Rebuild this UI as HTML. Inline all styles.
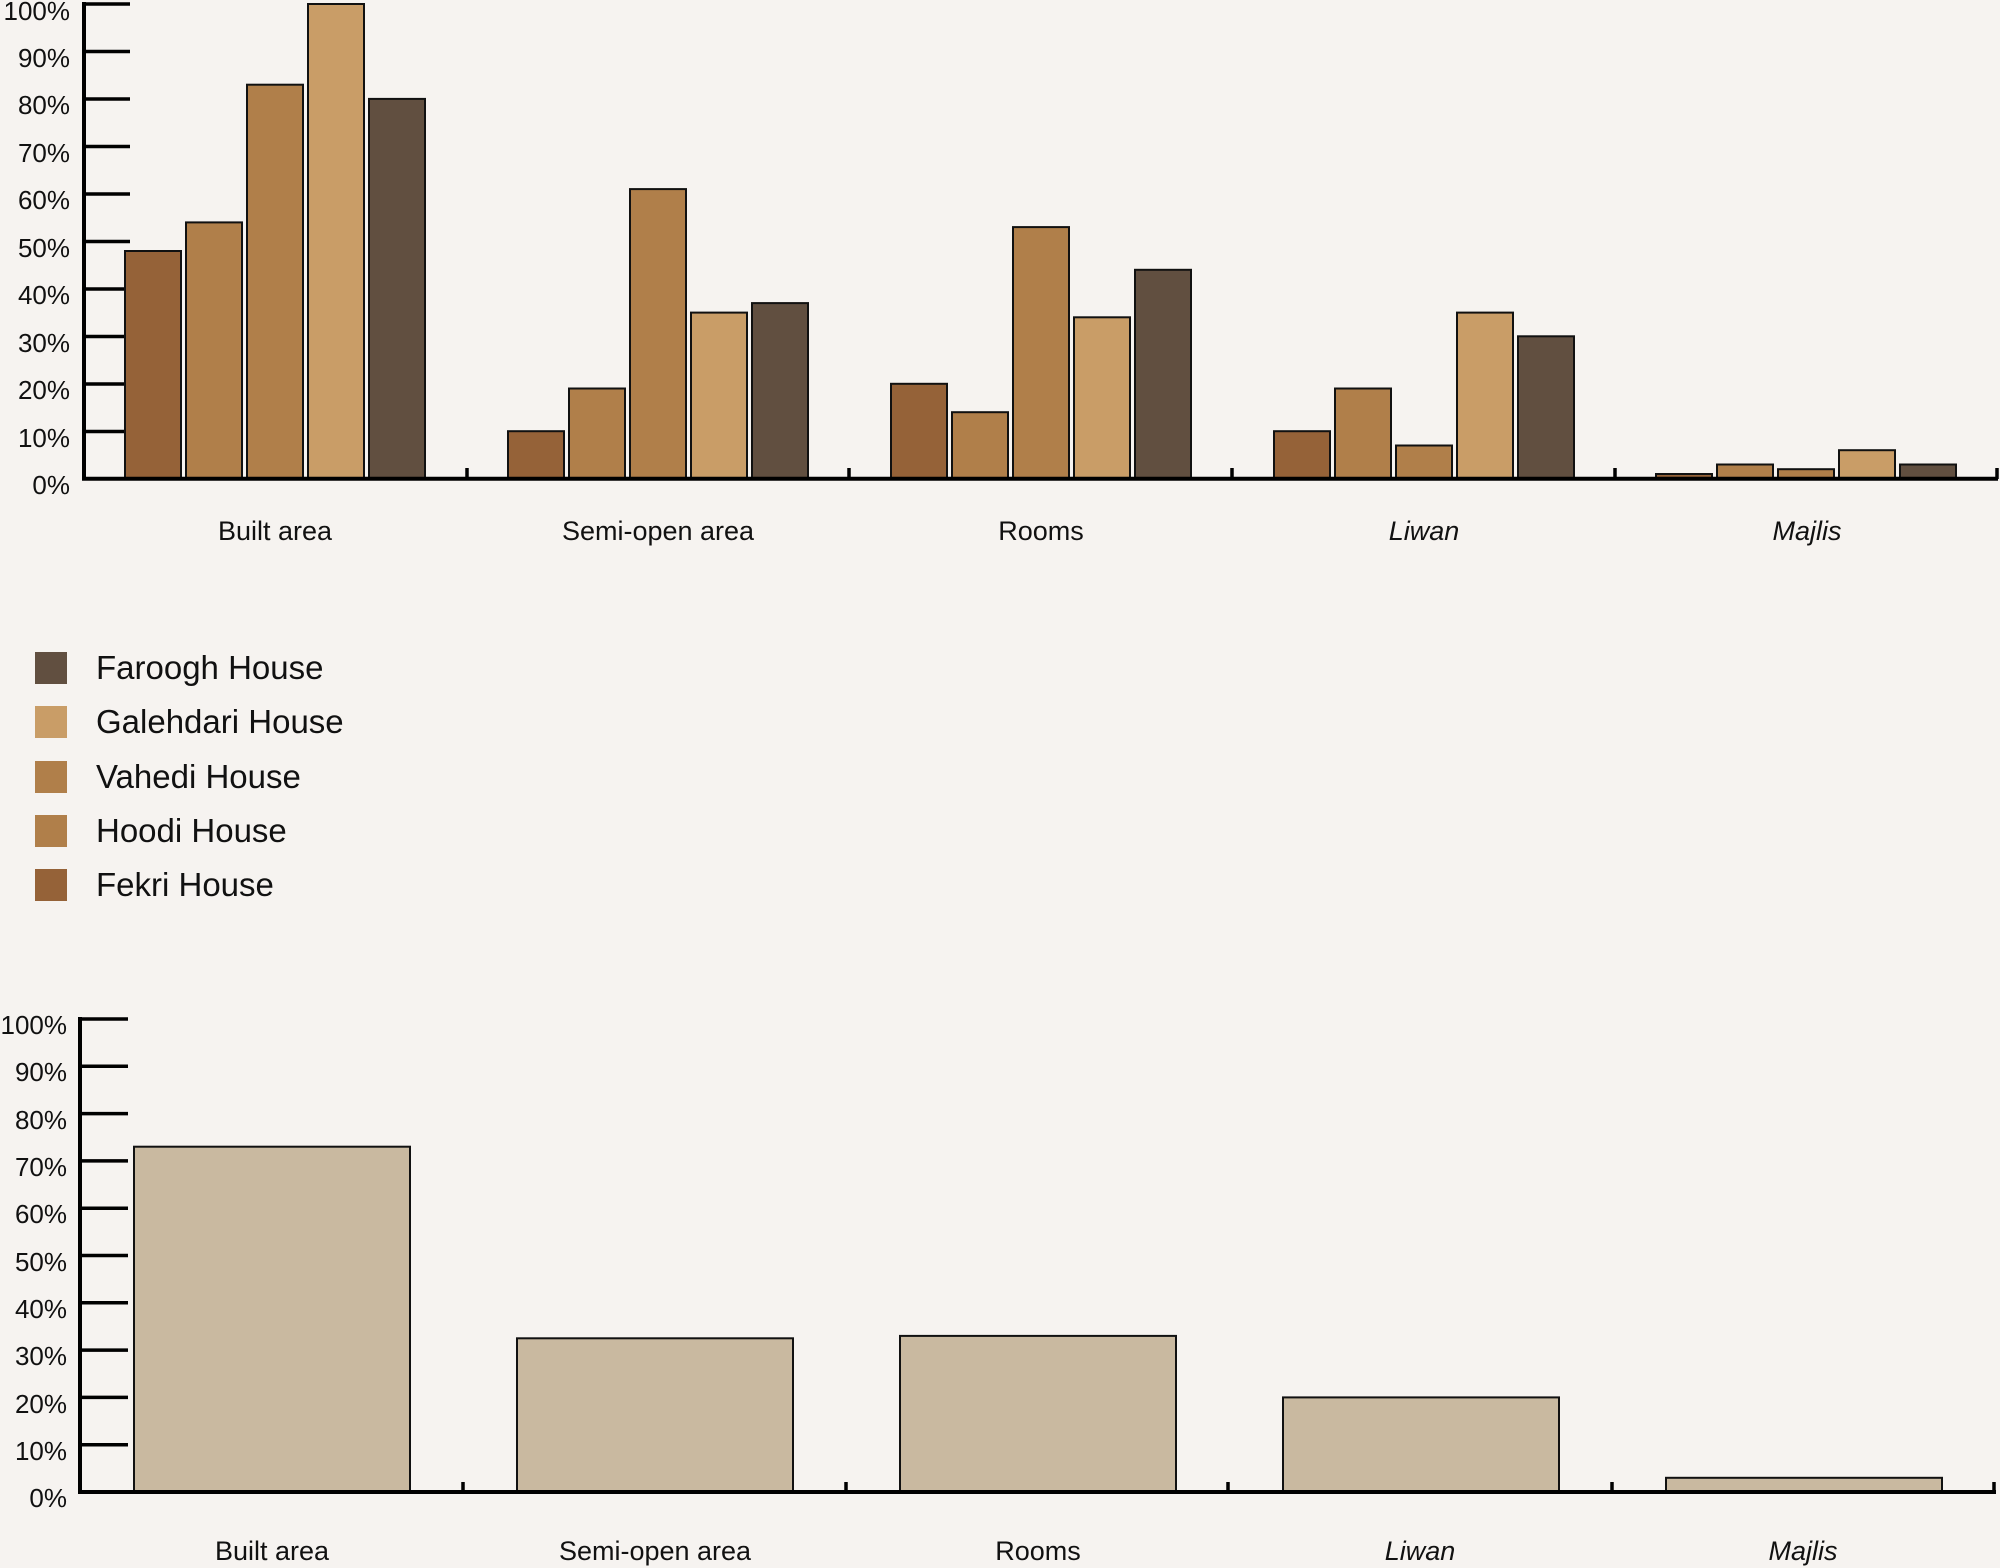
<!DOCTYPE html>
<html><head><meta charset="utf-8"><style>
html,body{margin:0;padding:0;background:#f6f3f0;}
svg{display:block;}
text{font-family:"Liberation Sans",sans-serif;fill:#111;}
</style></head><body>
<svg width="2000" height="1568" viewBox="0 0 2000 1568" xmlns="http://www.w3.org/2000/svg">
<rect width="2000" height="1568" fill="#f6f3f0"/>
<g id="top">
<g stroke="#000" stroke-width="3.5">
<line x1="84" y1="4" x2="130" y2="4"/><line x1="84" y1="51.5" x2="130" y2="51.5"/>
<line x1="84" y1="99" x2="130" y2="99"/><line x1="84" y1="146.5" x2="130" y2="146.5"/>
<line x1="84" y1="194" x2="130" y2="194"/><line x1="84" y1="241.5" x2="130" y2="241.5"/>
<line x1="84" y1="289" x2="130" y2="289"/><line x1="84" y1="336.5" x2="130" y2="336.5"/>
<line x1="84" y1="384" x2="130" y2="384"/><line x1="84" y1="431.5" x2="130" y2="431.5"/>
</g>
<g font-size="26" text-anchor="end">
<text x="70" y="20">100%</text><text x="70" y="67">90%</text><text x="70" y="114">80%</text>
<text x="70" y="162">70%</text><text x="70" y="209">60%</text><text x="70" y="257">50%</text>
<text x="70" y="304">40%</text><text x="70" y="352">30%</text><text x="70" y="399">20%</text>
<text x="70" y="447">10%</text><text x="70" y="494">0%</text>
</g>
<g stroke="#111" stroke-width="2">
<rect x="125" y="251" width="56" height="227.7" fill="#956238"/>
<rect x="186" y="222.4" width="56" height="256.3" fill="#b07f4a"/>
<rect x="247" y="84.7" width="56" height="394" fill="#b07f4a"/>
<rect x="308" y="4" width="56" height="474.7" fill="#c99d67"/>
<rect x="369" y="98.9" width="56" height="379.8" fill="#614f40"/>
<rect x="508" y="431.2" width="56" height="47.5" fill="#956238"/>
<rect x="569" y="388.5" width="56" height="90.2" fill="#b07f4a"/>
<rect x="630" y="189.1" width="56" height="289.6" fill="#b07f4a"/>
<rect x="691" y="312.6" width="56" height="166.1" fill="#c99d67"/>
<rect x="752" y="303.1" width="56" height="175.6" fill="#614f40"/>
<rect x="891" y="383.8" width="56" height="94.9" fill="#956238"/>
<rect x="952" y="412.2" width="56" height="66.5" fill="#b07f4a"/>
<rect x="1013" y="227.1" width="56" height="251.6" fill="#b07f4a"/>
<rect x="1074" y="317.3" width="56" height="161.4" fill="#c99d67"/>
<rect x="1135" y="269.8" width="56" height="208.9" fill="#614f40"/>
<rect x="1274" y="431.2" width="56" height="47.5" fill="#956238"/>
<rect x="1335" y="388.5" width="56" height="90.2" fill="#b07f4a"/>
<rect x="1396" y="445.5" width="56" height="33.2" fill="#b07f4a"/>
<rect x="1457" y="312.6" width="56" height="166.1" fill="#c99d67"/>
<rect x="1518" y="336.3" width="56" height="142.4" fill="#614f40"/>
<rect x="1656" y="474" width="56" height="4.7" fill="#956238"/>
<rect x="1717" y="464.5" width="56" height="14.2" fill="#b07f4a"/>
<rect x="1778" y="469.2" width="56" height="9.5" fill="#b07f4a"/>
<rect x="1839" y="450.2" width="56" height="28.5" fill="#c99d67"/>
<rect x="1900" y="464.5" width="56" height="14.2" fill="#614f40"/>
</g>
<polyline points="84,2 84,478.7 1998,478.7" stroke="#000" stroke-width="4" fill="none"/>
<g stroke="#000" stroke-width="3.5">
<line x1="467" y1="468" x2="467" y2="479"/><line x1="849" y1="468" x2="849" y2="479"/>
<line x1="1232" y1="468" x2="1232" y2="479"/><line x1="1615" y1="468" x2="1615" y2="479"/>
<line x1="1997" y1="468" x2="1997" y2="479"/>
</g>
<g font-size="27" text-anchor="middle">
<text x="275" y="540">Built area</text>
<text x="658" y="540">Semi-open area</text>
<text x="1041" y="540">Rooms</text>
<text x="1424" y="540" font-style="italic">Liwan</text>
<text x="1807" y="540" font-style="italic">Majlis</text>
</g>
</g>
<g id="legend" font-size="33">
<rect x="35" y="652" width="32" height="32" fill="#614f40"/><text x="96" y="679">Faroogh House</text>
<rect x="35" y="706" width="32" height="32" fill="#c99d67"/><text x="96" y="733">Galehdari House</text>
<rect x="35" y="761" width="32" height="32" fill="#b07f4a"/><text x="96" y="788">Vahedi House</text>
<rect x="35" y="815" width="32" height="32" fill="#b07f4a"/><text x="96" y="842">Hoodi House</text>
<rect x="35" y="869" width="32" height="32" fill="#956238"/><text x="96" y="896">Fekri House</text>
</g>
<g id="bottom">
<g stroke="#000" stroke-width="3.5">
<line x1="80" y1="1019" x2="128" y2="1019"/><line x1="80" y1="1066.3" x2="128" y2="1066.3"/>
<line x1="80" y1="1113.6" x2="128" y2="1113.6"/><line x1="80" y1="1160.9" x2="128" y2="1160.9"/>
<line x1="80" y1="1208.2" x2="128" y2="1208.2"/><line x1="80" y1="1255.5" x2="128" y2="1255.5"/>
<line x1="80" y1="1302.8" x2="128" y2="1302.8"/><line x1="80" y1="1350.1" x2="128" y2="1350.1"/>
<line x1="80" y1="1397.4" x2="128" y2="1397.4"/><line x1="80" y1="1444.7" x2="128" y2="1444.7"/>
</g>
<g font-size="26" text-anchor="end">
<text x="67" y="1034">100%</text><text x="67" y="1081">90%</text><text x="67" y="1129">80%</text>
<text x="67" y="1176">70%</text><text x="67" y="1223">60%</text><text x="67" y="1271">50%</text>
<text x="67" y="1318">40%</text><text x="67" y="1365">30%</text><text x="67" y="1413">20%</text>
<text x="67" y="1460">10%</text><text x="67" y="1507">0%</text>
</g>
<g stroke="#111" stroke-width="2" fill="#c9b9a0">
<rect x="134" y="1146.7" width="276" height="345.3"/>
<rect x="517" y="1338.3" width="276" height="153.7"/>
<rect x="900" y="1335.9" width="276" height="156.1"/>
<rect x="1283" y="1397.4" width="276" height="94.6"/>
<rect x="1666" y="1477.8" width="276" height="14.2"/>
</g>
<polyline points="80,1017 80,1492 1996,1492" stroke="#000" stroke-width="4" fill="none"/>
<g stroke="#000" stroke-width="3.5">
<line x1="463" y1="1482" x2="463" y2="1492"/><line x1="846" y1="1482" x2="846" y2="1492"/>
<line x1="1228" y1="1482" x2="1228" y2="1492"/><line x1="1612" y1="1482" x2="1612" y2="1492"/>
<line x1="1994" y1="1482" x2="1994" y2="1492"/>
</g>
<g font-size="27" text-anchor="middle">
<text x="272" y="1560">Built area</text>
<text x="655" y="1560">Semi-open area</text>
<text x="1038" y="1560">Rooms</text>
<text x="1420" y="1560" font-style="italic">Liwan</text>
<text x="1803" y="1560" font-style="italic">Majlis</text>
</g>
</g>
</svg>
</body></html>
